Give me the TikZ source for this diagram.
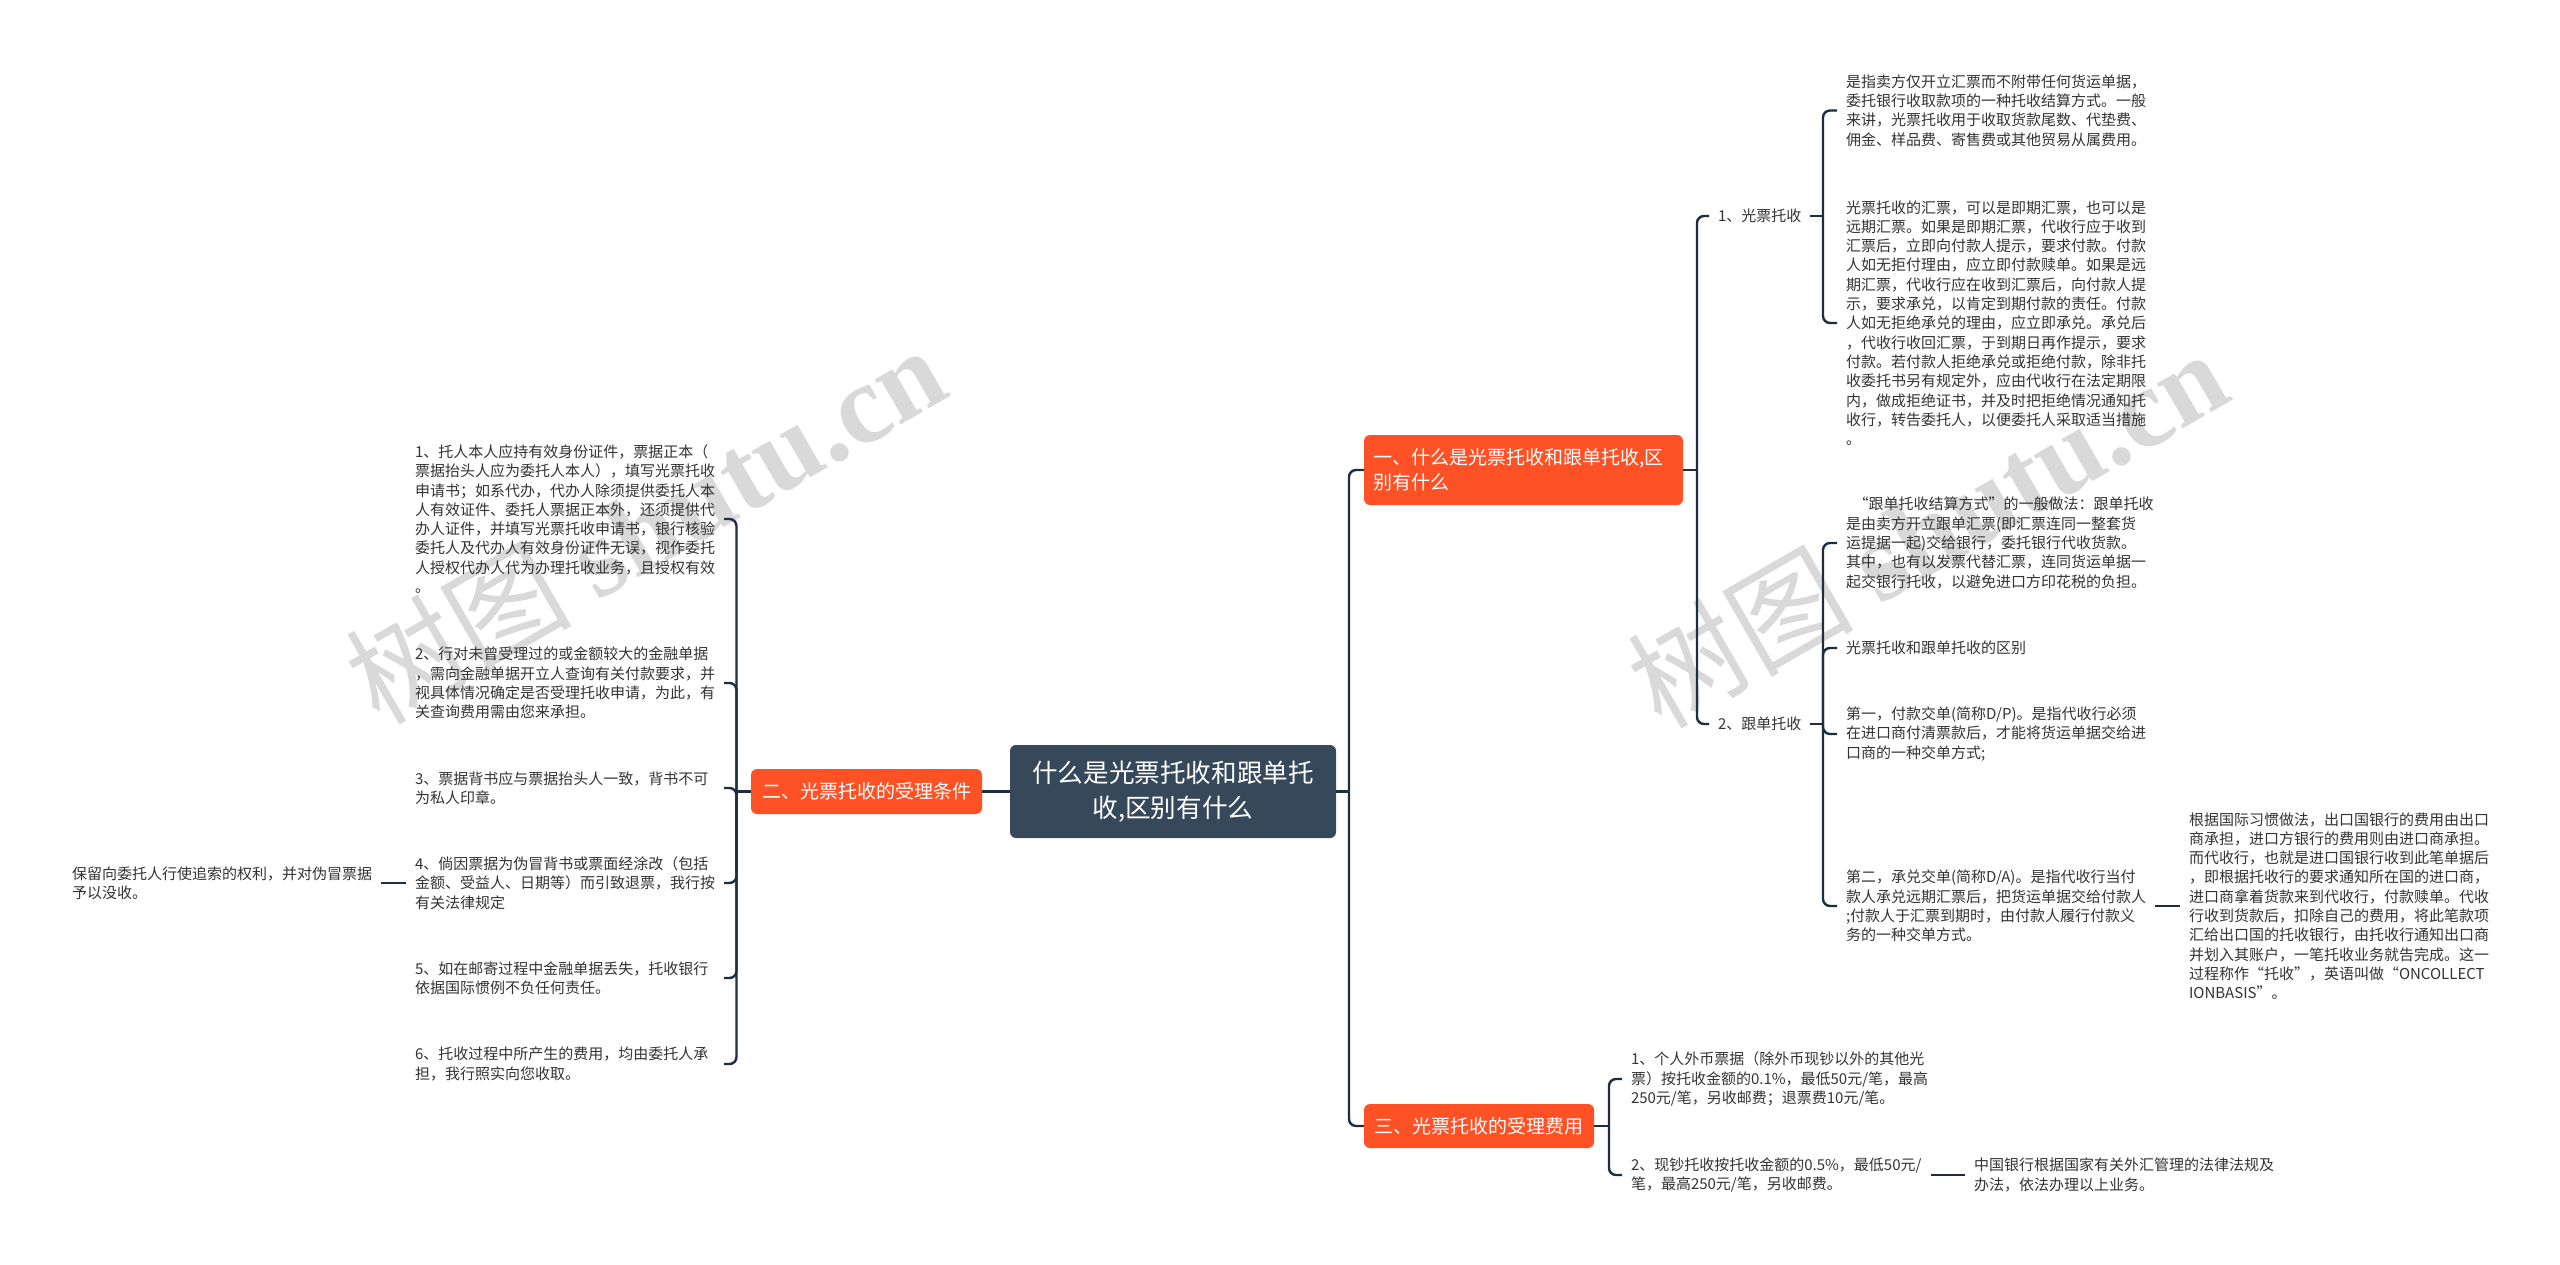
\documentclass[tikz,border=0pt]{standalone}
\usepackage{fontspec}
\setmainfont{Noto Sans CJK SC}
\newfontfamily\wmserif{Liberation Serif}
\definecolor{linec}{HTML}{1E2E3E}
\definecolor{rootc}{HTML}{35495A}
\definecolor{subc}{HTML}{FF5126}
\definecolor{txtc}{HTML}{333333}
\definecolor{wmc}{HTML}{D9D9D9}
\tikzset{
  conn/.style={draw=linec,line width=2.4pt,rounded corners=7pt},
  stub/.style={draw=linec,line width=2.6pt},
  leafl/.style={anchor=west,inner sep=0pt,outer xsep=9pt,align=left,text=txtc,font=\fontsize{15}{19.3}\selectfont},
  leafr/.style={anchor=west,inner sep=0pt,outer xsep=9pt,text width=300pt,align=left,text=txtc,font=\fontsize{15}{19.3}\selectfont},
  rootbox/.style={fill=rootc,rounded corners=6pt,text=white,align=center,inner sep=0pt,font=\fontsize{25.6}{35}\selectfont},
  subbox/.style={fill=subc,rounded corners=6pt,text=white,align=left,inner sep=0pt,font=\fontsize{19}{25}\selectfont},
  wm/.style={text=wmc,rotate=30,inner sep=0pt,font=\fontsize{113}{113}\selectfont}
}
\begin{document}
\begin{tikzpicture}[x=1pt,y=-1pt]
\useasboundingbox (0,0) rectangle (2560,1265);
\fill[white] (0,0) rectangle (2560,1265);
% watermarks
\node[wm] (wmL) at (645,524) {树图 {\wmserif\bfseries shutu.cn}};
\node[wm] (wmR) at (1927,528) {树图 {\wmserif\bfseries shutu.cn}};
% boxes
\node[rootbox,minimum width=326,minimum height=93] (root) at (1173,791.5) {什么是光票托收和跟单托\\收,区别有什么};
\node[subbox,minimum height=70,text width=301pt,inner xsep=9pt] (s1) at (1523.5,470) {一、什么是光票托收和跟单托收,区\\别有什么};
\node[subbox,minimum width=231,minimum height=45] (s2) at (866.5,791.5) {二、光票托收的受理条件};
\node[subbox,minimum width=230,minimum height=44] (s3) at (1479,1126) {三、光票托收的受理费用};
% level 2 right
\node[leafl] (r1) at (1709,216) {1、光票托收};
\node[leafl] (r2) at (1709,724) {2、跟单托收};
\node[leafl] (a) at (1837,110.5) {是指卖方仅开立汇票而不附带任何货运单据，\\委托银行收取款项的一种托收结算方式。一般\\来讲，光票托收用于收取货款尾数、代垫费、\\佣金、样品费、寄售费或其他贸易从属费用。};
\node[leafl] (b) at (1837,323) {光票托收的汇票，可以是即期汇票，也可以是\\远期汇票。如果是即期汇票，代收行应于收到\\汇票后，立即向付款人提示，要求付款。付款\\人如无拒付理由，应立即付款赎单。如果是远\\期汇票，代收行应在收到汇票后，向付款人提\\示，要求承兑，以肯定到期付款的责任。付款\\人如无拒绝承兑的理由，应立即承兑。承兑后\\，代收行收回汇票，于到期日再作提示，要求\\付款。若付款人拒绝承兑或拒绝付款，除非托\\收委托书另有规定外，应由代收行在法定期限\\内，做成拒绝证书，并及时把拒绝情况通知托\\收行，转告委托人，以便委托人采取适当措施\\。};
\node[leafl] (c) at (1837,543) {\hspace{7.5pt}“跟单托收结算方式”的一般做法：跟单托收\\是由卖方开立跟单汇票(即汇票连同一整套货\\运提据一起)交给银行，委托银行代收货款。\\其中，也有以发票代替汇票，连同货运单据一\\起交银行托收，以避免进口方印花税的负担。};
\node[leafl] (d) at (1837,648) {光票托收和跟单托收的区别};
\node[leafl] (e) at (1837,734) {第一，付款交单(简称D/P)。是指代收行必须\\在进口商付清票款后，才能将货运单据交给进\\口商的一种交单方式;};
\node[leafl] (f) at (1837,906) {第二，承兑交单(简称D/A)。是指代收行当付\\款人承兑远期汇票后，把货运单据交给付款人\\;付款人于汇票到期时，由付款人履行付款义\\务的一种交单方式。};
\node[leafl] (g) at (2180,906) {根据国际习惯做法，出口国银行的费用由出口\\商承担，进口方银行的费用则由进口商承担。\\而代收行，也就是进口国银行收到此笔单据后\\，即根据托收行的要求通知所在国的进口商，\\进口商拿着货款来到代收行，付款赎单。代收\\行收到货款后，扣除自己的费用，将此笔款项\\汇给出口国的托收银行，由托收行通知出口商\\并划入其账户，一笔托收业务就告完成。这一\\过程称作“托收”，英语叫做“ONCOLLECT\\IONBASIS”。};
\node[leafl] (h) at (1622,1079) {1、个人外币票据（除外币现钞以外的其他光\\票）按托收金额的0.1\%，最低50元/笔，最高\\250元/笔，另收邮费；退票费10元/笔。};
\node[leafl] (i) at (1622,1175) {2、现钞托收按托收金额的0.5\%，最低50元/\\笔，最高250元/笔，另收邮费。};
\node[leafl] (j) at (1965,1175) {中国银行根据国家有关外汇管理的法律法规及\\办法，依法办理以上业务。};
% left
\node[leafr] (l1) at (406,519) {1、托人本人应持有效身份证件，票据正本（\\票据抬头人应为委托人本人），填写光票托收\\申请书；如系代办，代办人除须提供委托人本\\人有效证件、委托人票据正本外，还须提供代\\办人证件，并填写光票托收申请书，银行核验\\委托人及代办人有效身份证件无误，视作委托\\人授权代办人代为办理托收业务，且授权有效\\。};
\node[leafr] (l2) at (406,683) {2、行对未曾受理过的或金额较大的金融单据\\，需向金融单据开立人查询有关付款要求，并\\视具体情况确定是否受理托收申请，为此，有\\关查询费用需由您来承担。};
\node[leafr] (l3) at (406,788) {3、票据背书应与票据抬头人一致，背书不可\\为私人印章。};
\node[leafr] (l4) at (406,883) {4、倘因票据为伪冒背书或票面经涂改（包括\\金额、受益人、日期等）而引致退票，我行按\\有关法律规定};
\node[leafr] (l5) at (406,978) {5、如在邮寄过程中金融单据丢失，托收银行\\依据国际惯例不负任何责任。};
\node[leafr] (l6) at (406,1064) {6、托收过程中所产生的费用，均由委托人承\\担，我行照实向您收取。};
\node[leafr] (l7) at (63,883) {保留向委托人行使追索的权利，并对伪冒票据\\予以没收。};
% hubs
\coordinate (hubR) at (1349,791.5);
\coordinate (hubL) at (736.5,791.5);
\coordinate (hub1) at (1697,470);
\coordinate (hubr1) at (1823,216);
\coordinate (hubr2) at (1823,724);
\coordinate (hub3) at (1609,1126);
% connectors
\draw[stub] (root.east) -- (hubR);
\draw[conn] (hubR) |- (s1.west);
\draw[conn] (hubR) |- (s3.west);
\draw[stub] (root.west) -- (s2.east);
\draw[stub] (s2.west) -- (hubL);
\draw[conn] (hubL) |- (l1.east);
\draw[conn] (hubL) |- (l2.east);
\draw[conn] (hubL) |- (l3.east);
\draw[conn] (hubL) |- (l4.east);
\draw[conn] (hubL) |- (l5.east);
\draw[conn] (hubL) |- (l6.east);
\draw[stub] (s1.east) -- (hub1);
\draw[conn] (hub1) |- (r1.west);
\draw[conn] (hub1) |- (r2.west);
\draw[stub] (r1.east) -- (hubr1);
\draw[conn] (hubr1) |- (a.west);
\draw[conn] (hubr1) |- (b.west);
\draw[stub] (r2.east) -- (hubr2);
\draw[conn] (hubr2) |- (c.west);
\draw[conn] (hubr2) |- (d.west);
\draw[conn] (hubr2) |- (e.west);
\draw[conn] (hubr2) |- (f.west);
\draw[stub] (f.east) -- (g.west);
\draw[stub] (s3.east) -- (hub3);
\draw[conn] (hub3) |- (h.west);
\draw[conn] (hub3) |- (i.west);
\draw[stub] (i.east) -- (j.west);
\draw[stub] (l4.west) -- (l7.east);
\end{tikzpicture}
\end{document}
